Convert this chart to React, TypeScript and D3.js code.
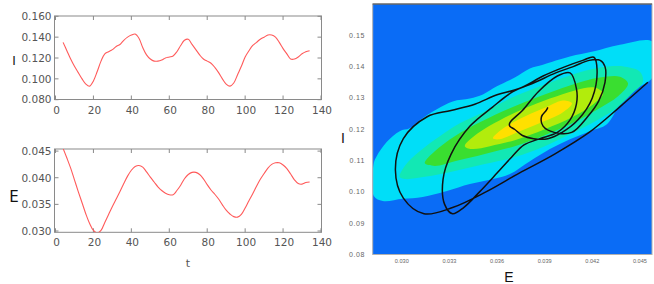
import React from "react";
import * as d3 from "d3";

// ---------- data ----------
const tValues = [4,6,8,10,12,14,16,18,20,22,24,26,28,30,32,34,36,38,40,42,44,46,48,50,52,54,56,58,60,62,64,66,68,70,72,74,76,78,80,82,84,86,88,90,92,94,96,98,100,102,104,106,108,110,112,114,116,118,120,122,124,126,128,130,132,134];
const iValues = [0.135,0.127,0.119,0.112,0.106,0.100,0.095,0.093,0.098,0.107,0.117,0.124,0.126,0.128,0.131,0.133,0.137,0.140,0.142,0.143,0.139,0.130,0.123,0.119,0.117,0.117,0.118,0.120,0.121,0.122,0.126,0.132,0.137,0.138,0.133,0.128,0.123,0.119,0.117,0.115,0.111,0.106,0.100,0.095,0.093,0.096,0.104,0.112,0.121,0.127,0.132,0.135,0.138,0.140,0.142,0.142,0.140,0.135,0.129,0.124,0.119,0.119,0.121,0.124,0.126,0.127];
const eValues = [0.0455,0.0437,0.0418,0.0396,0.0374,0.0353,0.0332,0.0314,0.0301,0.0296,0.0301,0.0316,0.0331,0.0346,0.0360,0.0374,0.0389,0.0403,0.0414,0.0421,0.0423,0.0420,0.0411,0.0401,0.0392,0.0383,0.0376,0.0371,0.0368,0.0368,0.0376,0.0386,0.0398,0.0406,0.0410,0.0410,0.0406,0.0398,0.0387,0.0377,0.0369,0.0360,0.0349,0.0339,0.0332,0.0327,0.0326,0.0331,0.0343,0.0357,0.0370,0.0384,0.0397,0.0408,0.0418,0.0425,0.0428,0.0428,0.0424,0.0417,0.0407,0.0396,0.0389,0.0388,0.0391,0.0392];

const timeTicks = [0,20,40,60,80,100,120,140];
const iTicks = [0.08,0.10,0.12,0.14,0.16];
const eTicks = [0.030,0.035,0.040,0.045];
const phaseETicks = [0.030,0.033,0.036,0.039,0.042,0.045];
const phaseITicks = [0.08,0.09,0.10,0.11,0.12,0.13,0.14,0.15];

// contour regions (E, I) from outer to inner
const contourCyan: [number, number][] = [[0.04582,0.1479],[0.04374,0.147],[0.04204,0.1448],[0.04059,0.1432],[0.03889,0.1406],[0.03807,0.1394],[0.03712,0.1365],[0.03599,0.1337],[0.03511,0.1311],[0.03429,0.1298],[0.03321,0.1289],[0.03221,0.1264],[0.03113,0.1229],[0.0305,0.1203],[0.02987,0.1194],[0.02905,0.1159],[0.02842,0.1114],[0.02824,0.1092],[0.02824,0.0987],[0.0288,0.0971],[0.03006,0.0978],[0.03132,0.0984],[0.03284,0.1003],[0.03429,0.1025],[0.03574,0.1041],[0.03681,0.1057],[0.03807,0.1098],[0.03933,0.1137],[0.04059,0.1168],[0.04185,0.1194],[0.04292,0.1216],[0.04374,0.1279],[0.04481,0.133],[0.04582,0.1368]];
const contourMint: [number, number][] = [[0.02987,0.1048],[0.03019,0.1083],[0.03113,0.113],[0.0324,0.1178],[0.03366,0.1219],[0.03523,0.1257],[0.03681,0.1298],[0.0387,0.1337],[0.04059,0.1372],[0.04248,0.1397],[0.04406,0.14],[0.045,0.1384],[0.04519,0.1352],[0.0445,0.1314],[0.04343,0.1264],[0.04216,0.1225],[0.04059,0.1184],[0.03901,0.1146],[0.03712,0.1111],[0.03523,0.1089],[0.03334,0.1067],[0.03145,0.1048],[0.03019,0.1041]];
const contourGreen: [number, number][] = [[0.03145,0.1092],[0.03208,0.113],[0.03334,0.1178],[0.03492,0.1222],[0.03681,0.1267],[0.0387,0.1305],[0.04059,0.134],[0.04248,0.1365],[0.04374,0.1368],[0.04425,0.1346],[0.04362,0.1305],[0.04235,0.1264],[0.04072,0.1219],[0.03901,0.1181],[0.03712,0.1146],[0.03523,0.1121],[0.03334,0.1098],[0.03208,0.1083]];
const contourYellowGreen: [number, number][] = [[0.03397,0.1146],[0.03479,0.1187],[0.03618,0.1229],[0.03775,0.1267],[0.03933,0.1298],[0.0409,0.1324],[0.04216,0.1333],[0.04267,0.1314],[0.04204,0.1279],[0.04072,0.1238],[0.03901,0.12],[0.03712,0.1165],[0.03555,0.1146],[0.03441,0.1137]];
const contourYellow: [number, number][] = [[0.03574,0.1171],[0.03649,0.1206],[0.03775,0.1241],[0.0392,0.1273],[0.04015,0.1292],[0.04072,0.1283],[0.04015,0.1254],[0.03882,0.1222],[0.03731,0.1191],[0.03618,0.1168]];

const contourLevels = [contourCyan, contourMint, contourGreen, contourYellowGreen, contourYellow];
const contourColors = ["#00def8", "#12e8b4", "#3ade30", "#b2ec0c", "#ffe000"];
const backgroundColor = "#0a6cf6";

// ---------- layout ----------
const W = 654, H = 284;
const LF = { x0: 54.5, x1: 321.5 };
const topFrame = { y0: 16, y1: 99.5 };
const botFrame = { y0: 149, y1: 232.3 };
const RF = { x0: 372.7, x1: 652, y0: 4, y1: 254.5 };

const xT = d3.scaleLinear().domain([0, 140]).range([55.5, 321]);
const yI = d3.scaleLinear().domain([0.08, 0.16]).range([99.7, 16.3]);
const yE = d3.scaleLinear().domain([0.030, 0.045]).range([231, 151.1]);
const xPE = d3.scaleLinear().domain([0.02817, 0.04576]).range([RF.x0, RF.x1]);
const yPI = d3.scaleLinear().domain([0.08, 0.16]).range([RF.y1, RF.y0]);

const leftFont = "DejaVu Sans, Verdana, sans-serif";
const rightFont = "Liberation Sans, Arial, sans-serif";

function TimePanel({ values, y, ticks, fmt, frame, clipId }: any) {
  const line = d3.line<number>()
    .x((_, i) => xT(tValues[i]))
    .y((v) => y(v))
    .curve(d3.curveCatmullRom);
  const tl = 4;
  return (
    <g>
      <clipPath id={clipId}>
        <rect x={LF.x0} y={frame.y0} width={LF.x1 - LF.x0} height={frame.y1 - frame.y0} />
      </clipPath>
      <rect x={LF.x0} y={frame.y0} width={LF.x1 - LF.x0} height={frame.y1 - frame.y0} fill="none" stroke="#8a8a8a" strokeWidth={1} />
      {ticks.map((v: number) => (
        <g key={"y" + v}>
          <line x1={LF.x0} x2={LF.x0 + tl} y1={y(v)} y2={y(v)} stroke="#8a8a8a" />
          <line x1={LF.x1} x2={LF.x1 - tl} y1={y(v)} y2={y(v)} stroke="#8a8a8a" />
          <text x={LF.x0 - 3} y={y(v)} dy="0.36em" textAnchor="end" fontSize={10.5} fill="#555" fontFamily={leftFont}>{fmt(v)}</text>
        </g>
      ))}
      {timeTicks.map((t) => (
        <g key={"x" + t}>
          <line x1={xT(t)} x2={xT(t)} y1={frame.y0} y2={frame.y0 + tl} stroke="#8a8a8a" />
          <line x1={xT(t)} x2={xT(t)} y1={frame.y1} y2={frame.y1 - tl} stroke="#8a8a8a" />
          <text x={xT(t) + 1} y={frame.y1 + 14} textAnchor="middle" fontSize={10.5} fill="#555" fontFamily={leftFont}>{t}</text>
        </g>
      ))}
      <path d={line(values) || ""} fill="none" stroke="#ff5a5a" strokeWidth={1.1} clipPath={`url(#${clipId})`} />
    </g>
  );
}

export default function App() {
  const area = d3.line<[number, number]>()
    .x((d) => xPE(d[0]))
    .y((d) => yPI(d[1]))
    .curve(d3.curveCatmullRomClosed);
  const traj = d3.line<number>()
    .x((_, i) => xPE(eValues[i]))
    .y((_, i) => yPI(iValues[i]))
    .curve(d3.curveCatmullRom);
  const idx = tValues.map((_, i) => i);
  return (
    <svg width={W} height={H} style={{ position: "absolute", left: 0, top: 0, background: "#fff" }}>
      <TimePanel values={iValues} y={yI} ticks={iTicks} fmt={d3.format(".3f")} frame={topFrame} clipId="clipTop" />
      <TimePanel values={eValues} y={yE} ticks={eTicks} fmt={d3.format(".3f")} frame={botFrame} clipId="clipBot" />
      <text x={14} y={61} textAnchor="middle" dominantBaseline="middle" fontSize={12} fill="#111" fontFamily={leftFont}>I</text>
      <text x={14} y={197} textAnchor="middle" dominantBaseline="middle" fontSize={15} fill="#111" fontFamily={leftFont}>E</text>
      <text x={188} y={264} textAnchor="middle" dominantBaseline="middle" fontSize={11} fill="#555" fontFamily={leftFont}>t</text>

      <clipPath id="clipRight">
        <rect x={RF.x0} y={RF.y0} width={RF.x1 - RF.x0} height={RF.y1 - RF.y0} />
      </clipPath>
      <rect x={RF.x0} y={RF.y0} width={RF.x1 - RF.x0} height={RF.y1 - RF.y0} fill={backgroundColor} />
      <g clipPath="url(#clipRight)">
        {contourLevels.map((poly, k) => (
          <path key={k} d={area(poly) || ""} fill={contourColors[k]} stroke="none" />
        ))}
        <path d={traj(idx) || ""} fill="none" stroke="#111" strokeWidth={1.5} />
      </g>
      <rect x={RF.x0} y={RF.y0} width={RF.x1 - RF.x0} height={RF.y1 - RF.y0} fill="none" stroke="#b0b0b0" strokeWidth={1} />
      <line x1={RF.x0} x2={RF.x1} y1={RF.y0} y2={RF.y0} stroke="#444" strokeWidth={1} />
      {phaseITicks.map((v) => (
        <text key={"pi" + v} x={365} y={yPI(v)} dy="0.35em" textAnchor="end" fontSize={7} letterSpacing={0.6} fill="#666" fontFamily={rightFont}>{d3.format(".2f")(v)}</text>
      ))}
      {phaseETicks.map((v) => (
        <text key={"pe" + v} x={xPE(v)} y={263} textAnchor="middle" fontSize={5.6} fill="#666" fontFamily={rightFont}>{d3.format(".3f")(v)}</text>
      ))}
      <text x={343} y={139} textAnchor="middle" dominantBaseline="middle" fontSize={14} fill="#111" fontFamily={rightFont}>I</text>
      <text x={509} y={278} textAnchor="middle" dominantBaseline="middle" fontSize={14} fill="#111" fontFamily={rightFont}>E</text>
    </svg>
  );
}
